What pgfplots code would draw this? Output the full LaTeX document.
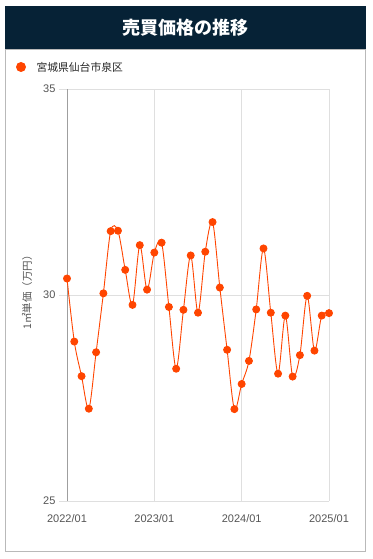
\documentclass[border=0pt]{standalone}
\usepackage{pgfplots}
\pgfplotsset{compat=1.18}
\usepackage{fontspec}
\setmainfont{Liberation Sans}
\newfontfamily\cjk{Noto Sans CJK JP}
\definecolor{hdr}{HTML}{062236}
\definecolor{ser}{HTML}{FF4500}
\definecolor{txt}{HTML}{555555}
\begin{document}
\begin{tikzpicture}[x=1pt,y=1pt]
\fill[white] (0,0) rectangle (372,559);
\fill[hdr] (5,559-50) rectangle (366,559-6);
\draw[gray!55, line width=1pt] (5.5,559-551.5) rectangle (365.5,559-50);
\node[white, font=\cjk\bfseries\fontsize{18}{21}\selectfont] at (185.5,559-28) {売買価格の推移};
\fill[ser] (21,559-67) circle (5);
\node[anchor=west, font=\cjk\fontsize{10.8}{12}\selectfont, text=black!85] at (33,559-67) {宮城県仙台市泉区};
\node[rotate=90, font=\cjk\fontsize{10.5}{12}\selectfont, text=txt] at (27,559-290) {1㎡単価（万円）};
\begin{axis}[
  at={(67pt,58pt)}, anchor=south west,
  width=262pt, height=412pt, scale only axis,
  xmin=0, xmax=36, ymin=25, ymax=35,
  xtick={0,12,24,36},
  xticklabels={2022/01,2023/01,2024/01,2025/01},
  ytick={25,30,35},
  grid=major,
  major grid style={draw=gray!25, line width=0.8pt},
  axis lines*=left,
  x axis line style={draw=gray!25, line width=0.8pt, -},
  y axis line style={draw=gray!75, line width=0.8pt, -},
  xtick style={draw=none},
  ytick style={draw=gray!25, line width=0.8pt},
  tick align=outside, major tick length=8pt,
  /pgf/number format/assume math mode=true,
  tick label style={font=\fontsize{11}{12}\selectfont, text=txt},
  xticklabel style={yshift=-2pt},
  clip=false,
]
\addplot[ser, line width=0.9pt, smooth, tension=0.5, mark=*, mark size=3.5pt, mark options={fill=ser, draw=ser}] coordinates {
(0,30.40) (1,28.87) (2,28.03) (3,27.24) (4,28.61) (5,30.04) (6,31.55) (7,31.56)
(8,30.61) (9,29.76) (10,31.21) (11,30.13) (12,31.03) (13,31.27) (14,29.71) (15,28.21)
(16,29.64) (17,30.96) (18,29.57) (19,31.05) (20,31.77) (21,30.18) (22,28.67) (23,27.23)
(24,27.84) (25,28.40) (26,29.65) (27,31.13) (28,29.57) (29,28.09) (30,29.50) (31,28.02)
(32,28.54) (33,29.98) (34,28.65) (35,29.50) (36,29.56)
};
\end{axis}
\end{tikzpicture}
\end{document}
